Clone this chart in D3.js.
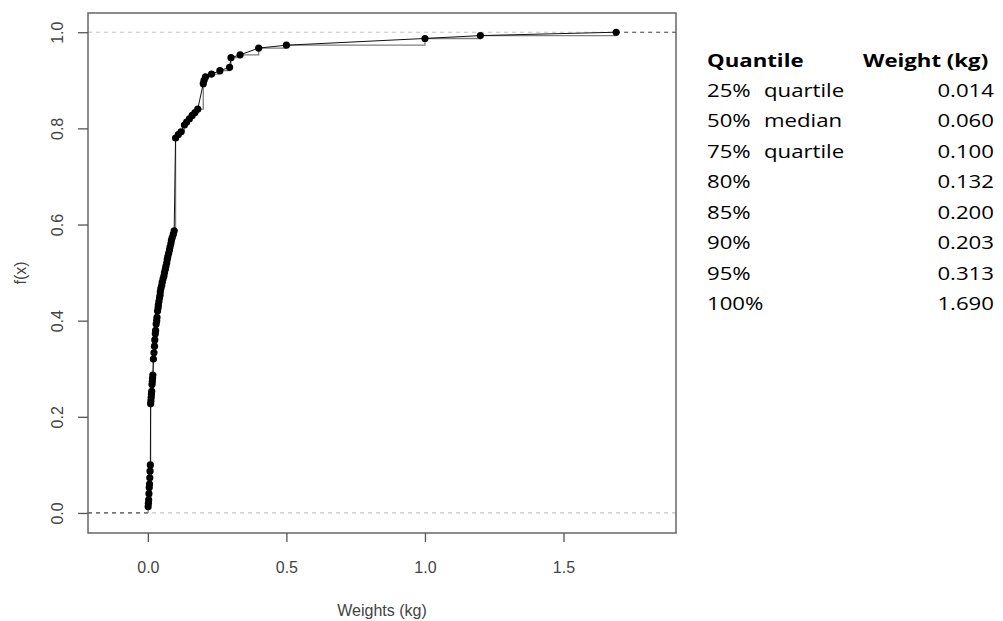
<!DOCTYPE html>
<html>
<head>
<meta charset="utf-8">
<script src="https://cdn.jsdelivr.net/npm/d3@7"></script>
<style>
  body { margin: 0; background: #fff; }
  svg { display: block; }
</style>
</head>
<body>
<svg id="chart" width="1003" height="621"></svg>
<script>
// distinct weights (kg) where the ecdf jumps
const weights = [
  0.001, 0.002, 0.003, 0.004, 0.005, 0.006, 0.007, 0.008, 0.009,
  0.010, 0.011, 0.012, 0.013, 0.014, 0.015, 0.016, 0.017, 0.018,
  0.020, 0.022, 0.024, 0.025, 0.027, 0.028, 0.030, 0.032, 0.033, 0.035,
  0.037, 0.038, 0.040, 0.042, 0.044, 0.045, 0.047, 0.050, 0.052, 0.055,
  0.058, 0.060, 0.063, 0.065, 0.068, 0.070, 0.072, 0.075, 0.078, 0.080,
  0.083, 0.085, 0.088, 0.092, 0.095,
  0.100, 0.110, 0.120, 0.132, 0.140, 0.150, 0.160, 0.170, 0.180,
  0.200, 0.203, 0.208, 0.230, 0.260, 0.295, 0.300, 0.333, 0.400, 0.500,
  1.000, 1.200, 1.690
];
// cumulative fraction f(x) at each of those weights
const cumProb = [
  0.013, 0.020, 0.027, 0.040, 0.053, 0.060, 0.073, 0.087, 0.100,
  0.227, 0.233, 0.240, 0.247, 0.253, 0.267, 0.273, 0.280, 0.287,
  0.320, 0.333, 0.347, 0.360, 0.373, 0.380, 0.393, 0.400, 0.407, 0.420,
  0.427, 0.433, 0.440, 0.447, 0.453, 0.460, 0.467, 0.473, 0.480, 0.487,
  0.493, 0.500, 0.507, 0.513, 0.520, 0.527, 0.533, 0.540, 0.547, 0.553,
  0.560, 0.567, 0.573, 0.580, 0.587,
  0.780, 0.787, 0.793, 0.807, 0.813, 0.820, 0.827, 0.833, 0.840,
  0.893, 0.900, 0.907, 0.913, 0.920, 0.927, 0.947, 0.953, 0.967, 0.973,
  0.987, 0.993, 1.000
];

const xTicks = [0, 0.5, 1.0, 1.5];
const yTicks = [0, 0.2, 0.4, 0.6, 0.8, 1.0];

// quantile table on the right
const quantileNames = ['25%', '50%', '75%', '80%', '85%', '90%', '95%', '100%'];
const quantileNotes = ['quartile', 'median', 'quartile', '', '', '', '', ''];
const quantileValues = ['0.014', '0.060', '0.100', '0.132', '0.200', '0.203', '0.313', '1.690'];

const svg = d3.select('#chart');
const box = { left: 88, right: 676, top: 13, bottom: 533 };

const x = d3.scaleLinear().domain([-0.216, 1.906]).range([box.left, box.right]);
const y = d3.scaleLinear().domain([-0.0417, 1.04]).range([box.bottom, box.top]);

const axisColor = '#444';
const points = weights.map((w, i) => ({ w: w, p: cumProb[i] }));

// reference lines at 0 and 1
svg.append('g')
  .selectAll('line')
  .data([0, 1])
  .enter().append('line')
  .attr('x1', box.left).attr('x2', box.right)
  .attr('y1', d => y(d)).attr('y2', d => y(d))
  .style('stroke', '#c4c4c4')
  .style('stroke-width', 1.2)
  .style('stroke-dasharray', '4,4');

// ecdf tails outside the data range
const first = points[0], last = points[points.length - 1];
svg.append('line')
  .attr('x1', box.left).attr('x2', x(first.w))
  .attr('y1', y(0)).attr('y2', y(0))
  .style('stroke', '#555').style('stroke-width', 1.2).style('stroke-dasharray', '4,4');
svg.append('line')
  .attr('x1', x(last.w)).attr('x2', box.right)
  .attr('y1', y(1)).attr('y2', y(1))
  .style('stroke', '#555').style('stroke-width', 1.2).style('stroke-dasharray', '4,4');

// step function
const stepData = [{ w: first.w, p: 0 }].concat(points);
svg.append('path')
  .datum(stepData)
  .attr('d', d3.line().x(d => x(d.w)).y(d => y(d.p)).curve(d3.curveStepAfter))
  .style('fill', 'none')
  .style('stroke', '#808080')
  .style('stroke-width', 1.3);

// line joining the points
svg.append('path')
  .datum(points)
  .attr('d', d3.line().x(d => x(d.w)).y(d => y(d.p)))
  .style('fill', 'none')
  .style('stroke', '#111')
  .style('stroke-width', 1);

svg.append('g')
  .selectAll('circle')
  .data(points)
  .enter().append('circle')
  .attr('cx', d => x(d.w))
  .attr('cy', d => y(d.p))
  .attr('r', 3.6)
  .style('fill', '#000');

// frame
svg.append('rect')
  .attr('x', box.left).attr('y', box.top)
  .attr('width', box.right - box.left).attr('height', box.bottom - box.top)
  .style('fill', 'none')
  .style('stroke', '#666')
  .style('stroke-width', 1.5);

// axes
const gx = svg.append('g')
  .attr('transform', `translate(0,${box.bottom})`)
  .call(d3.axisBottom(x).tickValues(xTicks).tickFormat(d3.format('.1f')).tickSize(9));
gx.select('.domain').remove();
gx.selectAll('line').style('stroke', '#555').style('stroke-width', 1.3);
gx.selectAll('text')
  .attr('y', 40).attr('dy', 0)
  .style('font-family', '"Liberation Sans", Arial, sans-serif')
  .style('font-size', '16px')
  .style('fill', axisColor);

const gy = svg.append('g')
  .attr('transform', `translate(${box.left},0)`)
  .call(d3.axisLeft(y).tickValues(yTicks).tickFormat(d3.format('.1f')).tickSize(10));
gy.select('.domain').remove();
gy.selectAll('line').style('stroke', '#555').style('stroke-width', 1.3);
gy.selectAll('text')
  .attr('x', 0).attr('y', 0).attr('dy', 0)
  .attr('transform', 'translate(-25,0) rotate(-90)')
  .style('text-anchor', 'middle')
  .style('font-family', '"Liberation Sans", Arial, sans-serif')
  .style('font-size', '16px')
  .style('fill', axisColor);

svg.append('text')
  .attr('x', (box.left + box.right) / 2 + 0)
  .attr('y', 616)
  .style('text-anchor', 'middle')
  .style('font-family', '"Liberation Sans", Arial, sans-serif')
  .style('font-size', '16px')
  .style('fill', axisColor)
  .text('Weights (kg)');

svg.append('text')
  .attr('transform', `translate(26,${(box.top + box.bottom) / 2}) rotate(-90)`)
  .style('text-anchor', 'middle')
  .style('font-family', '"Liberation Sans", Arial, sans-serif')
  .style('font-size', '16px')
  .style('fill', axisColor)
  .text('f(x)');

// quantile table
const table = svg.append('g').style('font-family', '"Open Sans", sans-serif').style('font-size', '18.5px');
const sx = 1.2;
function cell(px, py, txt, anchor, bold) {
  table.append('text')
    .attr('transform', `translate(${px},${py}) scale(${sx},1)`)
    .style('text-anchor', anchor)
    .style('font-weight', bold ? 700 : 400)
    .style('fill', '#000')
    .text(txt);
}
cell(707, 67, 'Quantile', 'start', true);
cell(863, 67, 'Weight (kg)', 'start', true);
const rowY = d3.scaleLinear().domain([0, 7]).range([96.5, 310]);
quantileNames.forEach((q, i) => {
  cell(707, rowY(i), q, 'start', false);
  if (quantileNotes[i]) cell(764, rowY(i), quantileNotes[i], 'start', false);
  cell(994, rowY(i), quantileValues[i], 'end', false);
});
</script>
</body>
</html>
